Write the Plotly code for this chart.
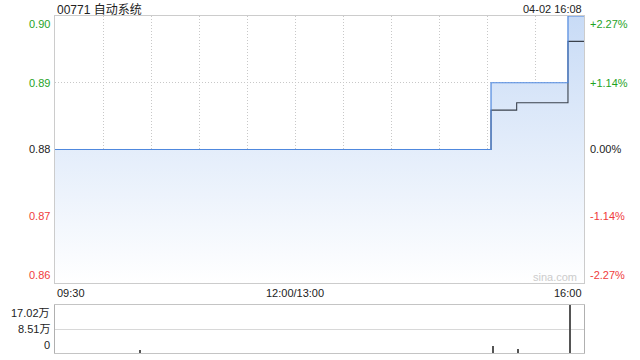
import plotly.graph_objects as go

# ---- data ----
title_text = "00771 自动系统"
stamp_text = "04-02 16:08"
prev_close = 0.88

# minutes since 09:30 (trading minutes, lunch removed)
price_t = [0, 272, 320, 330]
price_v = [0.88, 0.89, 0.90, 0.90]
avg_t = [0, 272, 288, 320, 330]
avg_v = [0.88, 0.8859, 0.887, 0.8962, 0.8962]

vol_t = [53, 273, 289, 321]
vol_v = [12000, 26000, 16000, 170200]

price_ticks = [0.90, 0.89, 0.88, 0.87, 0.86]
price_labels = ["0.90", "0.89", "0.88", "0.87", "0.86"]
pct_labels = ["+2.27%", "+1.14%", "0.00%", "-1.14%", "-2.27%"]
vol_ticks = [170200, 85100, 0]
vol_labels = ["17.02万", "8.51万", "0"]
time_ticks = [0, 150, 330]
time_labels = ["09:30", "12:00/13:00", "16:00"]
grid_minutes = list(range(30, 330, 30))

GREEN = "#1fa31f"
RED = "#f03c3c"
BLACK = "#222222"
FONT = "Liberation Sans, Noto Sans CJK SC, sans-serif"
DOT = "1px,2px"

def col(v):
    if v > prev_close + 1e-9:
        return GREEN
    if v < prev_close - 1e-9:
        return RED
    return BLACK

fig = go.Figure()

fig.add_trace(go.Scatter(
    x=price_t, y=price_v, mode="lines", line=dict(width=0, shape="hv"),
    fill="tozeroy",
    fillgradient=dict(type="vertical", start=0.86, stop=0.90,
                      colorscale=[[0, "rgba(255,255,255,1)"], [1, "#c8dbf6"]]),
    xaxis="x", yaxis="y", hoverinfo="skip", showlegend=False))
fig.add_trace(go.Scatter(
    x=avg_t, y=avg_v, mode="lines", line=dict(color="#3a414c", width=1.1, shape="hv"),
    xaxis="x", yaxis="y", hoverinfo="skip", showlegend=False))
fig.add_trace(go.Scatter(
    x=price_t, y=price_v, mode="lines", line=dict(color="#4f88de", width=1.2, shape="hv"),
    xaxis="x", yaxis="y", hoverinfo="skip", showlegend=False))

fig.add_trace(go.Bar(
    x=vol_t, y=vol_v, width=0.7, marker=dict(color="#555555", line=dict(width=0)),
    xaxis="x2", yaxis="y2", hoverinfo="skip", showlegend=False))

main_dom = [0.2139, 0.9556]
vol_dom = [0.0194, 0.1528]

fig.update_layout(
    width=640, height=360,
    margin=dict(l=55, r=56, t=0, b=0),
    paper_bgcolor="white", plot_bgcolor="white",
    font=dict(family=FONT, size=11, color=BLACK),
    xaxis=dict(domain=[0, 1], range=[0, 330], anchor="y",
               tickvals=grid_minutes, showticklabels=False, ticks="",
               showgrid=True, gridcolor="#c8c8c8", griddash=DOT, gridwidth=1,
               showline=True, linecolor="#cccccc", mirror=True, zeroline=False),
    yaxis=dict(domain=main_dom, range=[0.86, 0.90], anchor="x",
               tickvals=[0.89, 0.87], showticklabels=False, ticks="",
               showgrid=True, gridcolor="#c8c8c8", griddash=DOT,
               showline=True, linecolor="#cccccc", mirror=True, zeroline=False),
    xaxis2=dict(domain=[0, 1], range=[0, 330], anchor="y2",
                showticklabels=False, ticks="", showgrid=False, zeroline=False,
                showline=True, linecolor="#c4c4c4", mirror=True),
    yaxis2=dict(domain=vol_dom, range=[0, 170200], anchor="x2",
                tickvals=[85100], showticklabels=False, ticks="",
                showgrid=True, gridcolor="#d8d8d8", gridwidth=1,
                zeroline=False, showline=True, linecolor="#b0b0b0", mirror=True),
    bargap=0,
)

shapes = [
    dict(type="line", xref="x", yref="y", x0=0, x1=330, y0=prev_close, y1=prev_close,
         line=dict(color="#aaaaaa", width=1, dash="4px,3px"), layer="below"),
]
fig.update_layout(shapes=shapes)

ann = []
ann.append(dict(xref="x", yref="paper", x=0, y=1.0, xanchor="left", yanchor="top",
                text=title_text, showarrow=False, font=dict(size=12, color=BLACK), yshift=-1))
ann.append(dict(xref="x", yref="paper", x=330, y=1.0, xanchor="right", yanchor="top",
                text=stamp_text, showarrow=False, font=dict(size=11, color=BLACK), yshift=-1))
n = len(price_ticks)
for i, (v, lab, pl) in enumerate(zip(price_ticks, price_labels, pct_labels)):
    ya = "top" if i == 0 else ("bottom" if i == n - 1 else "middle")
    c = col(v)
    ann.append(dict(xref="paper", yref="y", x=0, y=v, xanchor="right", yanchor=ya,
                    text=lab, showarrow=False, font=dict(size=11, color=c), xshift=-3))
    ann.append(dict(xref="paper", yref="y", x=1, y=v, xanchor="left", yanchor=ya,
                    text=pl, showarrow=False, font=dict(size=11, color=c), xshift=4))
anchors = ["left", "center", "right"]
for t, lab, a in zip(time_ticks, time_labels, anchors):
    ann.append(dict(xref="x", yref="paper", x=t, y=main_dom[0], xanchor=a, yanchor="top",
                    text=lab, showarrow=False, font=dict(size=11, color=BLACK), yshift=-2))
vanch = ["top", "middle", "bottom"]
for v, lab, a in zip(vol_ticks, vol_labels, vanch):
    ann.append(dict(xref="paper", yref="y2", x=0, y=v, xanchor="right", yanchor=a,
                    text=lab, showarrow=False, font=dict(size=11, color=BLACK), xshift=-3))
ann.append(dict(xref="x", yref="y", x=327, y=0.86, xanchor="right", yanchor="bottom",
                text="sina.com", showarrow=False, font=dict(size=11, color="#cccccc"), yshift=-2))
fig.update_layout(annotations=ann)

fig.write_html("out.html")
